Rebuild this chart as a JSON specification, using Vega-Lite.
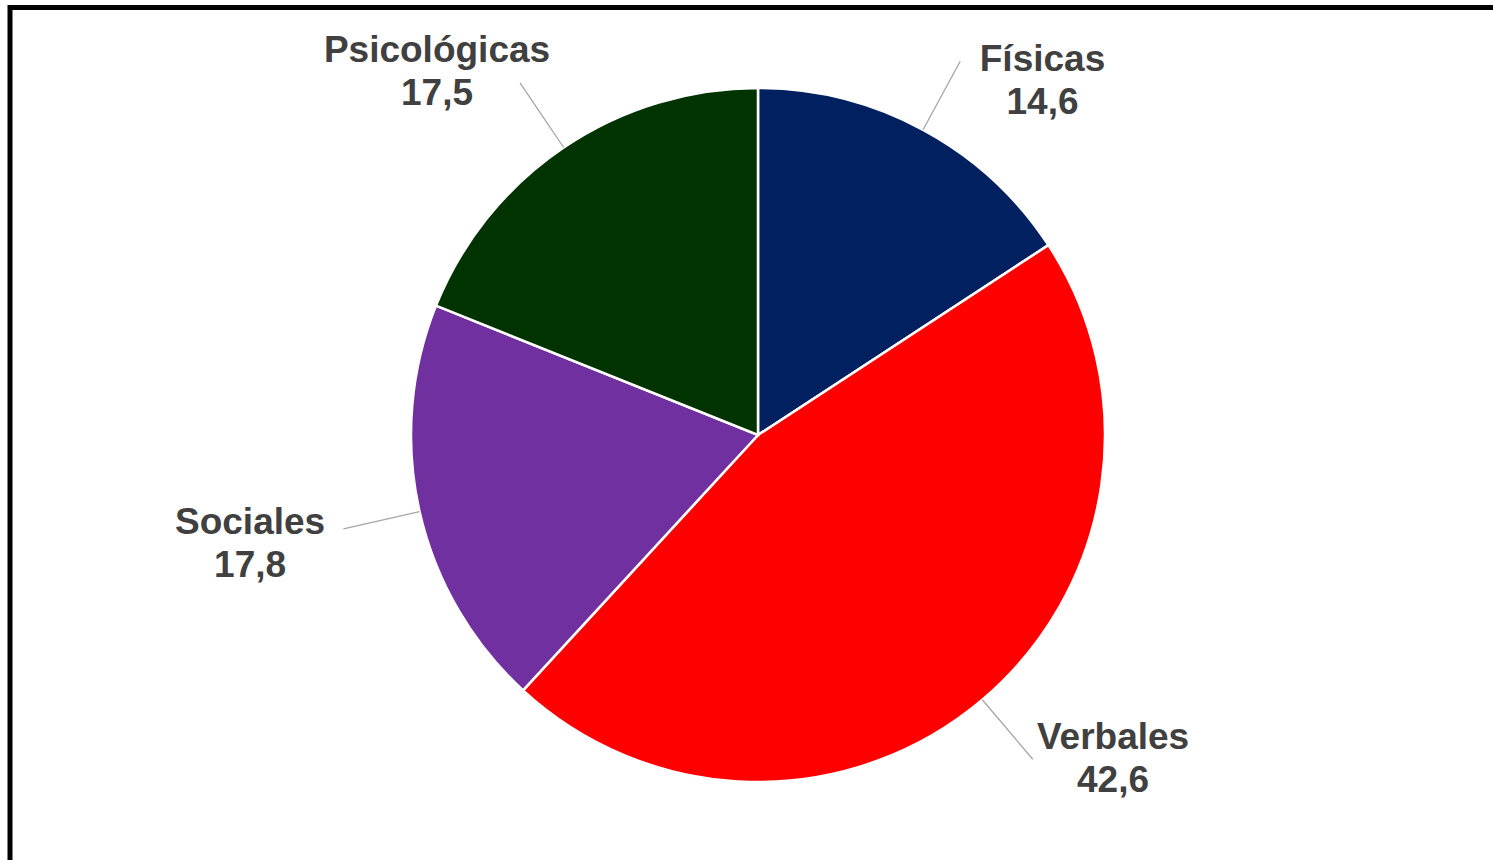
{
  "$schema": "https://vega.github.io/schema/vega-lite/v6.json",
  "width": 1493,
  "height": 860,
  "autosize": {"type": "fit", "contains": "padding"},
  "padding": {"left": 10, "top": 7.5, "right": -16, "bottom": -2.5},
  "background": "white",
  "data": {
    "values": [
      {"tipo": "Físicas", "valor": 14.6, "orden": 1},
      {"tipo": "Verbales", "valor": 42.6, "orden": 2},
      {"tipo": "Sociales", "valor": 17.8, "orden": 3},
      {"tipo": "Psicológicas", "valor": 17.5, "orden": 4}
    ]
  },
  "transform": [
    {"window": [{"op": "sum", "field": "valor", "as": "acum"}], "sort": [{"field": "orden"}], "frame": [null, 0]},
    {"joinaggregate": [{"op": "sum", "field": "valor", "as": "total"}]},
    {"calculate": "datum.acum - datum.valor", "as": "inicio"},
    {"calculate": "datum.acum - datum.valor / 2", "as": "mid"},
    {"calculate": "datum.mid < datum.total / 2 ? 'der' : 'izq'", "as": "lado"},
    {"calculate": "datum.tipo + '\\n' + replace(format(datum.valor, '.1f'), '.', ',')", "as": "etiqueta"}
  ],
  "layer": [
    {
      "mark": {"type": "point", "opacity": 0},
      "encoding": {
        "x": {"field": "orden", "type": "quantitative", "axis": null},
        "y": {"field": "valor", "type": "quantitative", "axis": null}
      }
    },
    {
      "mark": {"type": "arc", "outerRadius": 347, "stroke": "white", "strokeWidth": 2.5},
      "encoding": {
        "theta": {"field": "acum", "type": "quantitative", "scale": {"zero": true, "nice": false}},
        "theta2": {"field": "inicio"},
        "color": {
          "field": "tipo",
          "type": "nominal",
          "scale": {
            "domain": ["Físicas", "Verbales", "Sociales", "Psicológicas"],
            "range": ["#002060", "#FF0000", "#7030A0", "#003300"]
          },
          "legend": null
        }
      }
    },
    {
      "mark": {"type": "arc", "innerRadius": 347, "outerRadius": 425, "fillOpacity": 0, "stroke": "#A6A6A6", "strokeWidth": 1.3},
      "encoding": {
        "theta": {"field": "mid", "type": "quantitative"},
        "theta2": {"field": "mid"}
      }
    },
    {
      "transform": [{"filter": "datum.lado === 'der'"}],
      "mark": {
        "type": "text", "radius": 413, "dx": 88, "dy": -12,
        "align": "center", "baseline": "middle",
        "font": "Liberation Sans", "fontSize": 37, "fontWeight": "bold",
        "fill": "#404040", "lineBreak": "\n", "lineHeight": 43
      },
      "encoding": {
        "theta": {"field": "mid", "type": "quantitative"},
        "text": {"field": "etiqueta", "type": "nominal"}
      }
    },
    {
      "transform": [{"filter": "datum.lado === 'izq'"}],
      "mark": {
        "type": "text", "radius": 450, "dx": -69, "dy": -11,
        "align": "center", "baseline": "middle",
        "font": "Liberation Sans", "fontSize": 37, "fontWeight": "bold",
        "fill": "#404040", "lineBreak": "\n", "lineHeight": 43
      },
      "encoding": {
        "theta": {"field": "mid", "type": "quantitative"},
        "text": {"field": "etiqueta", "type": "nominal"}
      }
    }
  ],
  "config": {
    "view": {"stroke": "#000000", "strokeWidth": 5}
  }
}
